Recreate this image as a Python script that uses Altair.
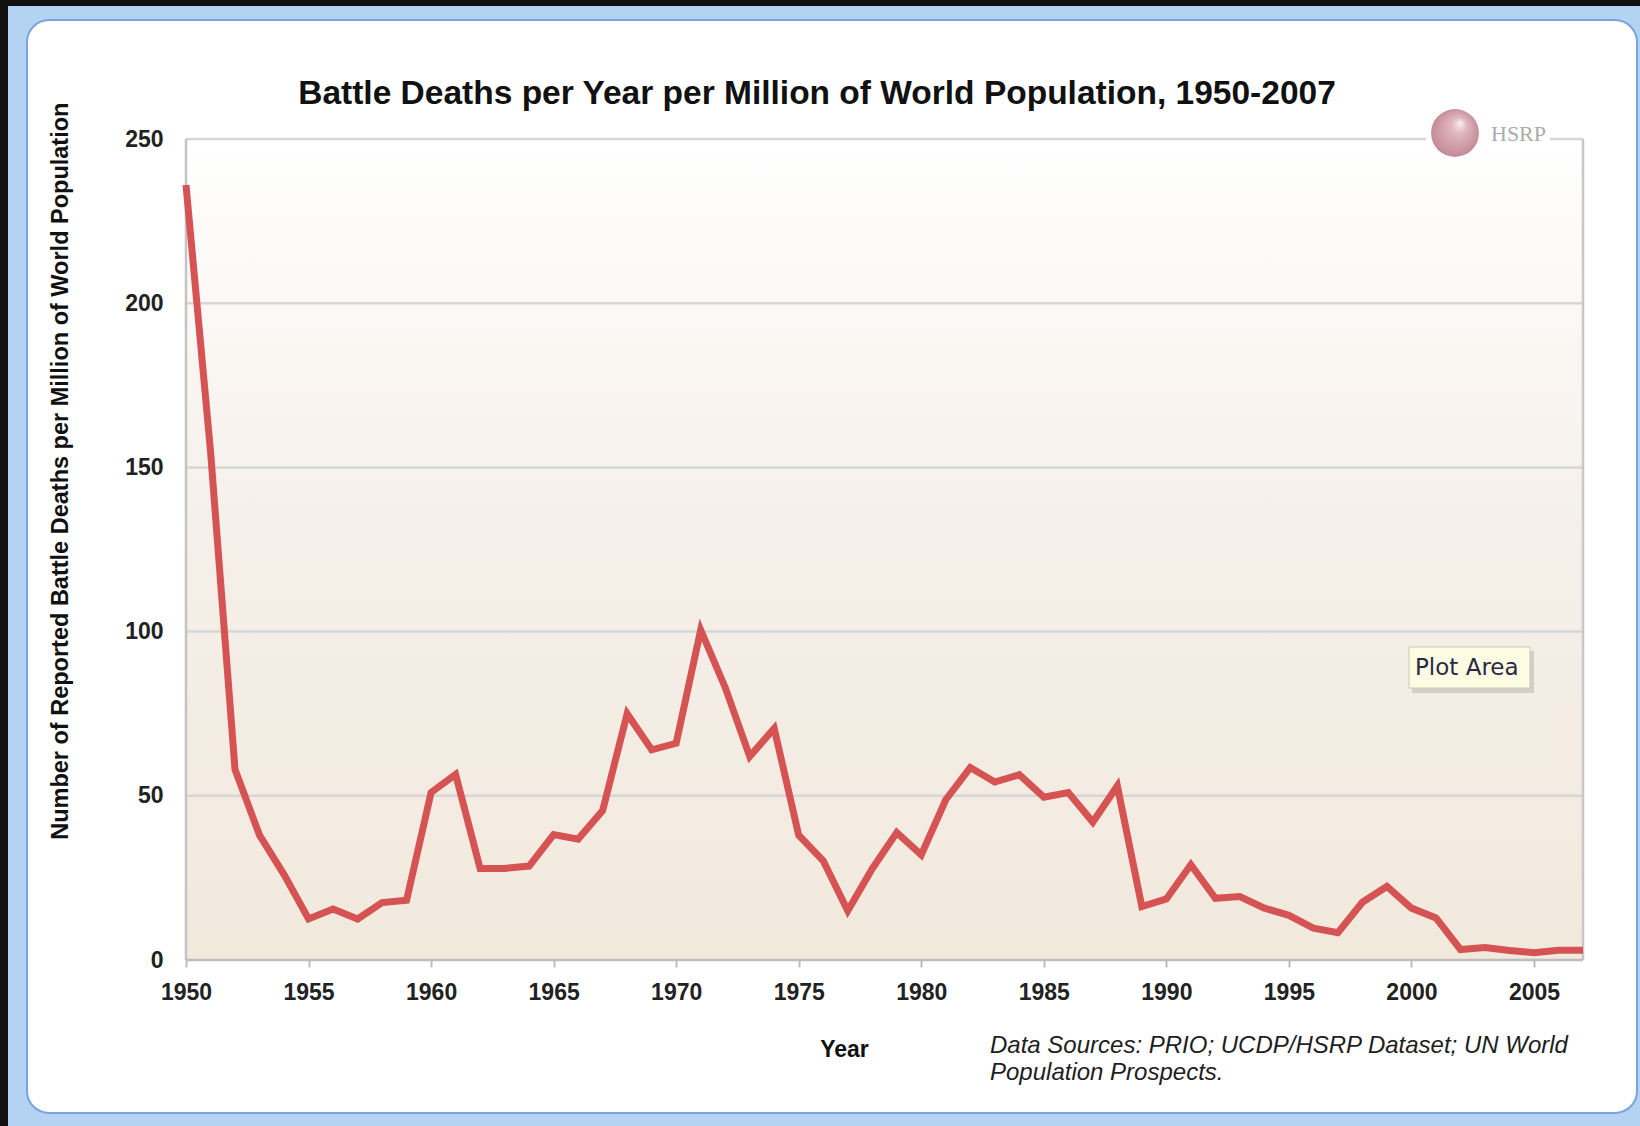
import altair as alt
import pandas as pd

# ---------------- data ----------------
years = list(range(1950, 2008))
deaths = [236, 155, 58, 38, 26, 12.5, 15.5, 12.5, 17.5, 18.2,
          51, 56.5, 27.9, 27.9, 28.6, 38.2, 36.8, 45.5, 75, 64,
          66, 100.5, 83, 62, 70.5, 38, 30.2, 15, 27.8, 38.8,
          32, 48.8, 58.6, 54.2, 56.4, 49.6, 51, 42, 53, 16.3,
          18.6, 29, 18.8, 19.3, 15.8, 13.6, 9.7, 8.3, 17.6, 22.4,
          15.8, 12.8, 3.2, 3.8, 2.9, 2.2, 3.0, 3.0]
x_ticks = [1950, 1955, 1960, 1965, 1970, 1975, 1980, 1985, 1990, 1995, 2000, 2005]
y_ticks = [0, 50, 100, 150, 200, 250]
grid_values = [50, 100, 150, 200, 250]

title_text = "Battle Deaths per Year per Million of World Population, 1950-2007"
y_title = "Number of Reported Battle Deaths per Million of World Population"
x_title = "Year"
source_lines = ["Data Sources: PRIO; UCDP/HSRP Dataset; UN World", "Population Prospects."]

df = pd.DataFrame({"year": years, "deaths": deaths})
grid_df = pd.DataFrame({"deaths": grid_values})
one = pd.DataFrame({"k": [0]})

W, H = 1397, 821
FONT = "Liberation Sans"

xscale = alt.Scale(domain=[1950, 2007], nice=False, zero=False)
yscale = alt.Scale(domain=[0, 250], nice=False, zero=True)

xaxis = alt.Axis(values=x_ticks, format="d", grid=False, zindex=1, domain=False,
                 labelFont=FONT, labelFontWeight="bold", labelFontSize=23,
                 labelColor="#222222", labelPadding=14, labelFlush=False,
                 labelOverlap=False,
                 tickColor="#bdbdbd", tickSize=7, tickWidth=2,
                 title=x_title, titleFont=FONT, titleFontSize=23,
                 titleFontWeight="bold", titleColor="#111111",
                 titleX=658, titleY=89, titleBaseline="middle")
yaxis = alt.Axis(values=y_ticks, grid=False, zindex=1, ticks=False, tickSize=0,
                 domain=False,
                 labelFont=FONT, labelFontWeight="bold", labelFontSize=23,
                 labelColor="#222222", labelPadding=23,
                 title=y_title, titleFont=FONT, titleFontSize=23.5,
                 titleFontWeight="bold", titleColor="#111111",
                 titleAngle=270, titleX=-126, titleY=331.7,
                 titleAlign="center", titleBaseline="middle")

base1 = alt.Chart(one)

# window frame decoration
window = base1.mark_rect(fill="#b4d2f2").encode(
    x=alt.value(-178), x2=alt.value(1454), y=alt.value(-133), y2=alt.value(987))
panel = base1.mark_rect(fill="white", stroke="#78a5e0", strokeWidth=2, cornerRadius=22).encode(
    x=alt.value(-159), x2=alt.value(1451), y=alt.value(-119), y2=alt.value(974))

# plot area gradient
plotbg = base1.mark_rect(fill={
    "gradient": "linear", "x1": 0, "y1": 0, "x2": 0, "y2": 1,
    "stops": [{"offset": 0, "color": "#ffffff"},
              {"offset": 0.45, "color": "#f6f0ea"},
              {"offset": 1, "color": "#f2e9dd"}]}).encode(
    x=alt.value(0), x2=alt.value(W), y=alt.value(0), y2=alt.value(H))

grid = alt.Chart(grid_df).mark_rule(color="#d6d6d6", strokeWidth=2.5).encode(
    y=alt.Y("deaths:Q", scale=yscale, axis=yaxis))
right_border = base1.mark_rule(color="#c8c8c8", strokeWidth=2.5).encode(
    x=alt.value(W), y=alt.value(0), y2=alt.value(H))
left_border = base1.mark_rule(color="#c4c4c4", strokeWidth=2.5).encode(
    x=alt.value(0), y=alt.value(0), y2=alt.value(H))
bottom_border = base1.mark_rule(color="#bdbdbd", strokeWidth=2.5).encode(
    x=alt.value(0), x2=alt.value(W), y=alt.value(H))

line = alt.Chart(df).mark_line(color="#d55353", strokeWidth=7).encode(
    x=alt.X("year:Q", scale=xscale, axis=xaxis),
    y=alt.Y("deaths:Q", scale=yscale, axis=yaxis))

# HSRP logo
logo_patch = base1.mark_rect(fill="white").encode(
    x=alt.value(1240), x2=alt.value(1364), y=alt.value(-9), y2=alt.value(3))
sphere = base1.mark_circle(size=2290, opacity=0.85, fill={
    "gradient": "radial", "x1": 0.62, "y1": 0.28, "r1": 0, "x2": 0.5, "y2": 0.5, "r2": 0.55,
    "stops": [{"offset": 0, "color": "#fbeef0"},
              {"offset": 0.3, "color": "#dcaab4"},
              {"offset": 1, "color": "#b5707e"}]}).encode(
    x=alt.value(1269), y=alt.value(-6))
hsrp = base1.mark_text(font="Liberation Serif", fontSize=22, color="#ababab",
                       align="left", baseline="middle").encode(
    x=alt.value(1305), y=alt.value(-5), text=alt.value("HSRP"))

# "Plot Area" tooltip
tip_shadow = base1.mark_rect(fill="#000000", opacity=0.13).encode(
    x=alt.value(1226), x2=alt.value(1348), y=alt.value(512), y2=alt.value(554))
tip_box = base1.mark_rect(fill="#fdfbe2", stroke="#c9c9b8", strokeWidth=1).encode(
    x=alt.value(1223), x2=alt.value(1344), y=alt.value(508), y2=alt.value(549))
tip_text = base1.mark_text(font="DejaVu Sans", fontSize=23, color="#2a2a44",
                           align="left", baseline="middle").encode(
    x=alt.value(1229), y=alt.value(529), text=alt.value("Plot Area"))

title = base1.mark_text(font=FONT, fontSize=33.5, fontWeight="bold", color="#111111",
                        align="center", baseline="alphabetic").encode(
    x=alt.value(631), y=alt.value(-35.5), text=alt.value(title_text))
source = base1.mark_text(font=FONT, fontSize=24, fontStyle="italic", color="#1e1e1e",
                         align="left", baseline="alphabetic", lineHeight=27).encode(
    x=alt.value(804), y=alt.value(914), text=alt.value(source_lines))

chart = alt.layer(
    window, panel, plotbg, grid, right_border, left_border, bottom_border, line,
    logo_patch, sphere, hsrp, tip_shadow, tip_box, tip_text, title, source
).properties(
    width=W, height=H,
    autosize=alt.AutoSizeParams(type="none"),
    padding={"left": 186, "top": 139, "right": 57, "bottom": 166},
    background="#111111",
).configure_view(stroke=None)

chart.save("out.html", embed_options={"renderer": "svg", "actions": False})
